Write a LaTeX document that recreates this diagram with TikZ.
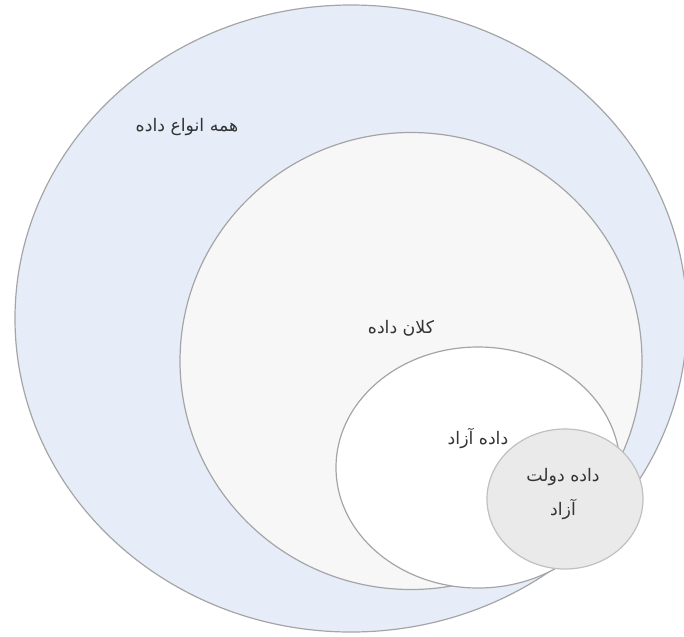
\documentclass[tikz,border=0pt]{standalone}
\usepackage{fontspec}
\newfontfamily\farsifont[Script=Arabic]{DejaVu Sans}
\TeXXeTstate=1
\usepackage{tikz}
\usetikzlibrary{calc}

\definecolor{setedge}{RGB}{165,165,165}
\definecolor{allfill}{RGB}{230,237,249}
\definecolor{bigfill}{RGB}{247,247,247}
\definecolor{govfill}{RGB}{234,234,234}

\begin{document}
\begin{tikzpicture}[x=0.75pt, y=-0.75pt,
    setline/.style={draw=setedge, line width=0.9pt},
    setlabel/.style={font=\farsifont\fontsize{13}{26}\selectfont, text=black!80, align=center, inner sep=0pt}]

    \useasboundingbox (0,0) rectangle (684,636);

    \coordinate (all) at (351,318.5);
    \coordinate (big) at (411,361);
    \coordinate (open) at (478,467.5);
    \coordinate (gov) at (565,499);

    % All data
    \draw[setline, fill=allfill] (all) ellipse [x radius=336, y radius=313.5];
    % Big data
    \draw[setline, fill=bigfill] (big) ellipse [x radius=231, y radius=228.5];
    % Open data
    \draw[setline, fill=white] (open) ellipse [x radius=142, y radius=120.5];
    % Open government data
    \draw[draw=setedge!70, line width=0.9pt, fill=govfill] (gov) ellipse [x radius=78, y radius=70];

    % Labels
    \node[setlabel] (alllabel) at (187,127) {\beginR همه انواع داده\endR};
    \node[setlabel] (biglabel) at (401,328) {\beginR کلان داده\endR};
    \node[setlabel] (openlabel) at (478,438) {\beginR داده آزاد\endR};
    \node[setlabel] (govlabel) at (563,494) {\beginR داده دولت\endR\\\beginR آزاد\endR};

\end{tikzpicture}
\end{document}
